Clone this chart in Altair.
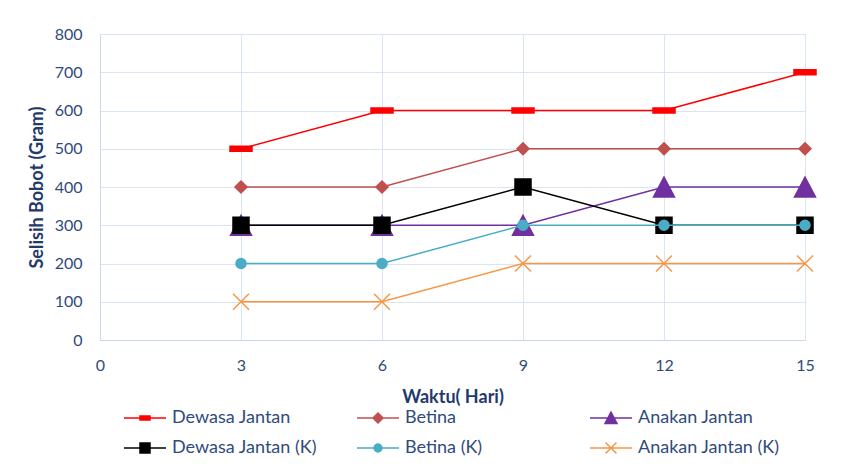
import altair as alt
import pandas as pd

days = [3, 6, 9, 12, 15]
series_names = ["Dewasa Jantan", "Betina", "Anakan Jantan",
                "Dewasa Jantan (K)", "Betina (K)", "Anakan Jantan (K)"]
dewasa_jantan = [500, 600, 600, 600, 700]
betina = [400, 400, 500, 500, 500]
anakan_jantan = [300, 300, 300, 400, 400]
dewasa_jantan_k = [300, 300, 400, 300, 300]
betina_k = [200, 200, 300, 300, 300]
anakan_jantan_k = [100, 100, 200, 200, 200]
colors = ["#FF0000", "#C0504D", "#7030A0", "#000000", "#4BACC6", "#F79646"]

# marker paths (unit box, scaled by sqrt(size)/2)
marker_paths = [
    "M-1.1,-0.25H1.1V0.25H-1.1Z",
    "M0,-0.6L0.6,0L0,0.6L-0.6,0Z",
    "M0,-1L1.05,1H-1.05Z",
    "M-0.8,-0.8H0.8V0.8H-0.8Z",
    "M-0.5,0A0.5,0.5,0,1,1,0.5,0A0.5,0.5,0,1,1,-0.5,0Z",
    "M-0.8,-0.8L0.8,0.8M-0.8,0.8L0.8,-0.8",
]
legend_paths = [
    "M-2.1,0H2.1M-0.5,-0.2H0.5V0.2H-0.5Z",
    "M-2.1,0H2.1M0,-0.5L0.5,0L0,0.5L-0.5,0Z",
    "M-2.1,0H2.1M0,-0.6L0.6,0.55H-0.6Z",
    "M-2.1,0H2.1M-0.5,-0.5H0.5V0.5H-0.5Z",
    "M-2.1,0H2.1M-0.4,0A0.4,0.4,0,1,1,0.4,0A0.4,0.4,0,1,1,-0.4,0Z",
    "M-2.1,0H2.1M-0.55,-0.55L0.55,0.55M-0.55,0.55L0.55,-0.55",
]

values = [dewasa_jantan, betina, anakan_jantan, dewasa_jantan_k, betina_k, anakan_jantan_k]
rows = []
for name, vals in zip(series_names, values):
    for d, v in zip(days, vals):
        rows.append({"series": name, "day": d, "value": v})
df = pd.DataFrame(rows)

FONT = "Lato"
TEXT = "#2F4B7C"
TITLE = "#1F3A6B"
GRID = "#D9E4F4"

x_enc = alt.X("day:Q", scale=alt.Scale(domain=[0, 15], nice=False),
              axis=alt.Axis(values=[0, 3, 6, 9, 12, 15], title="Waktu( Hari)",
                            grid=True, gridColor=GRID, domainColor="#C9D8EE",
                            ticks=False, labelPadding=17, titlePadding=15, labelFlush=False,
                            labelFont=FONT, labelFontSize=16, labelColor=TEXT,
                            titleFont=FONT, titleFontSize=18, titleColor=TITLE,
                            titleFontWeight="bold"))
y_enc = alt.Y("value:Q", scale=alt.Scale(domain=[0, 800], nice=False),
              axis=alt.Axis(values=list(range(0, 801, 100)), title="Selisih Bobot (Gram)",
                            grid=True, gridColor=GRID, domainColor="#C9D8EE",
                            ticks=False, labelPadding=18, titlePadding=8, labelFlush=False,
                            labelFont=FONT, labelFontSize=16, labelColor=TEXT,
                            titleFont=FONT, titleFontSize=18, titleColor=TITLE,
                            titleFontWeight="bold"))

base = alt.Chart(df)
layers = []
for i, name in enumerate(series_names):
    sub = base.transform_filter(alt.datum.series == name)
    layers.append(sub.mark_line(color=colors[i], strokeWidth=1.5).encode(x=x_enc, y=y_enc))
    layers.append(sub.mark_point(shape=marker_paths[i], size=400, filled=True,
                                 fill=colors[i], stroke=colors[i], strokeWidth=1.5,
                                 opacity=1).encode(x=x_enc, y=y_enc))

legend_layer = base.mark_point(filled=True, size=0, strokeWidth=0, opacity=1).encode(
    x=x_enc, y=y_enc,
    color=alt.Color("series:N", sort=None,
                    scale=alt.Scale(domain=series_names, range=colors),
                    legend=alt.Legend(title=None, orient="none", legendX=34, legendY=373,
                                      columns=3, direction="horizontal", gridAlign="all",
                                      symbolSize=400, symbolStrokeWidth=1.5, symbolOpacity=1,
                                      labelFont=FONT, labelFontSize=18, labelColor=TEXT,
                                      labelOffset=16, columnPadding=37, rowPadding=10)),
    stroke=alt.Stroke("series:N", sort=None,
                      scale=alt.Scale(domain=series_names, range=colors)),
    shape=alt.Shape("series:N", sort=None,
                    scale=alt.Scale(domain=series_names, range=legend_paths)),
)

chart = alt.layer(*layers, legend_layer).properties(
    width=705, height=306,
    padding={"left": 92, "top": 26, "right": 40, "bottom": 120},
    autosize=alt.AutoSizeParams(type="none"),
).configure_view(stroke=None).configure(background="white")

chart.save("out.html", embed_options={"renderer": "svg", "actions": False})
